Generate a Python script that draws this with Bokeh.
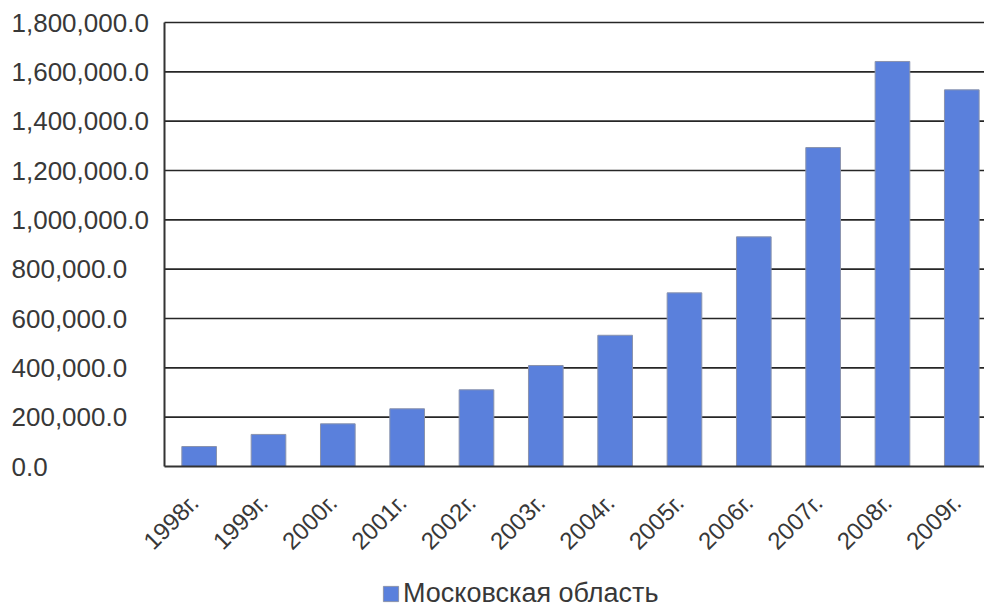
import math
from bokeh.plotting import figure
from bokeh.models import Range1d, Legend, LegendItem, ColumnDataSource
from bokeh.core.properties import value
from bokeh.embed import file_html
from bokeh.resources import INLINE

# ---- data ----
years = ["1998г.", "1999г.", "2000г.", "2001г.", "2002г.", "2003г.",
         "2004г.", "2005г.", "2006г.", "2007г.", "2008г.", "2009г."]
values = [81000, 130000, 173000, 234000, 311000, 409500,
          532000, 704000, 931000, 1293000, 1642000, 1527000]
y_ticks = [0, 200000, 400000, 600000, 800000, 1000000,
           1200000, 1400000, 1600000, 1800000]
y_tick_labels = [f"{v:,.1f}" for v in y_ticks]
series_name = "Московская область"

FONT = "Liberation Sans"
TXT = "#383838"
AXIS = "#333333"

# ---- layout constants (pixels) ----
W, H = 984, 609
AXIS_X = 164          # left edge of plotting area
ZERO_Y = 466          # baseline (from top)
TOP_Y = 22            # top gridline (from top)
CAT_W = 69.33         # width of one category

n = len(years)
positions = [i + 0.5 for i in range(n)]
src = ColumnDataSource(dict(x=positions, top=values, year=years))

y_max = y_ticks[-1]
u = y_max / (ZERO_Y - TOP_Y)            # data units per pixel
x_end = (W - AXIS_X) / CAT_W

p = figure(width=W, height=H, min_border=0,
           x_range=Range1d(-AXIS_X / CAT_W, x_end),
           y_range=Range1d(-(H - ZERO_Y) * u, y_max + TOP_Y * u),
           x_axis_location=None, y_axis_location=None,
           output_backend="svg", toolbar_location=None, title=None)
p.outline_line_color = None
p.grid.grid_line_color = None
p.background_fill_color = "white"
p.border_fill_color = "white"

# horizontal gridlines
grid_vals = y_ticks[1:]
p.segment(x0=[0] * len(grid_vals), x1=[x_end] * len(grid_vals),
          y0=grid_vals, y1=grid_vals, line_color="#262626", line_width=1.6)

# bars
bars = p.vbar(x="x", top="top", width=0.5, source=src,
              fill_color="#5a80dc", line_color="#8a93ad", line_width=1)

# axis lines
p.segment(x0=[0, 0], y0=[0, 0], x1=[0, x_end], y1=[y_max, 0],
          line_color=AXIS, line_width=2)

# y tick labels (left aligned at the page edge)
p.text(x=[0] * len(y_ticks), y=y_ticks, text=y_tick_labels,
       x_offset=-(AXIS_X - 11), text_align="left", text_baseline="middle",
       text_font=value(FONT), text_font_size=value("26px"),
       text_color=TXT)

# x tick labels (rotated, ending at the category centre)
p.text(x="x", y=0, text="year", source=src,
       x_offset=-5, y_offset=32, angle=math.pi / 4,
       text_align="right", text_baseline="middle",
       text_font=value(FONT), text_font_size=value("24px"),
       text_color=TXT)

legend = Legend(items=[LegendItem(label=series_name, renderers=[bars])],
                location=(381, 0), orientation="horizontal",
                padding=0, margin=0, spacing=0, label_standoff=3,
                glyph_width=19, glyph_height=19, label_height=18,
                label_text_font=FONT, label_text_font_size="27px",
                label_text_color=TXT, border_line_alpha=0,
                background_fill_alpha=0)
p.add_layout(legend)

open("out.html", "w").write(file_html(p, INLINE))
